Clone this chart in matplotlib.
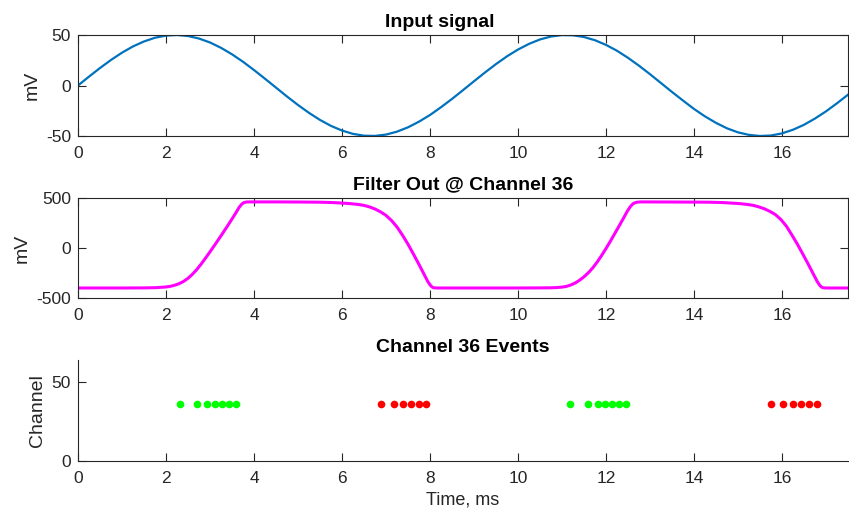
import matplotlib
matplotlib.use("Agg")
import matplotlib.pyplot as plt

plt.rcParams['font.family'] = ['Liberation Sans', 'DejaVu Sans']
plt.rcParams['axes.unicode_minus'] = False

# input sine, sampled every 0.25 ms
t_in = [i * 0.25 for i in range(71)]
v_in = [0.0, 8.8, 17.3, 25.3, 32.5, 38.7, 43.6, 47.3, 49.4, 50.0,
        49.0, 46.5, 42.6, 37.3, 30.9, 23.5, 15.3, 6.7, -2.1, -10.9,
        -19.3, -27.1, -34.1, -40.0, -44.6, -47.9, -49.7, -49.9, -48.6, -45.7,
        -41.4, -35.8, -29.2, -21.5, -13.3, -4.6, 4.2, 12.9, 21.2, 28.9,
        35.6, 41.2, 45.6, 48.5, 49.9, 49.7, 48.0, 44.8, 40.2, 34.4,
        27.4, 19.6, 11.2, 2.4, -6.4, -14.9, -23.2, -30.6, -37.0, -42.4,
        -46.4, -48.9, -50.0, -49.5, -47.4, -43.8, -38.9, -32.7, -25.6, -17.6,
        -9.1]

# filter output for channel 36 (ms, mV)
t_filt = [0.0, 1.0, 1.5, 1.75, 2.0, 2.1, 2.2, 2.3, 2.4, 2.5, 2.6, 2.7, 2.8,
          2.9, 3.0, 3.1, 3.2, 3.3, 3.4, 3.5, 3.6, 3.66, 3.72, 3.77, 3.83, 3.9,
          4.5, 5.0, 5.5, 5.75, 5.9, 6.0, 6.125, 6.25, 6.375, 6.5, 6.625, 6.75,
          6.875, 7.0, 7.125, 7.25, 7.375, 7.5, 7.625, 7.75, 7.85, 7.95, 8.0,
          8.04, 8.08, 8.15, 9.0, 10.0, 10.5,
          10.75, 10.9, 11.0, 11.1, 11.2, 11.3, 11.4, 11.5, 11.6, 11.7, 11.8,
          11.9, 12.0, 12.1, 12.2, 12.3, 12.4, 12.48, 12.55, 12.61, 12.66, 12.72,
          12.8, 13.5, 14.0, 14.35, 14.6, 14.75, 14.85, 14.975, 15.1, 15.225,
          15.35, 15.475, 15.6, 15.725, 15.85, 15.975, 16.1, 16.225, 16.35,
          16.475, 16.6, 16.7, 16.8, 16.85, 16.89, 16.93, 17.0, 17.5]
v_filt = [-400, -400, -399, -397, -390, -383, -372, -356, -334, -303, -263, -215, -160,
          -100, -38, 25, 90, 155, 222, 290, 360, 405, 438, 454, 460, 461,
          461, 460, 458, 455, 452, 449, 446, 441, 435, 426, 411, 390,
          362, 326, 275, 210, 128, 38, -62, -165, -250, -335, -368,
          -388, -397, -400, -400, -400, -399,
          -398, -395, -391, -384, -370, -350, -322, -288, -247, -198, -140,
          -75, -5, 68, 145, 222, 300, 365, 412, 441, 453, 459,
          461, 460, 459, 458, 455, 452, 449, 446, 441, 435,
          426, 411, 392, 366, 334, 285, 218, 130, 38,
          -62, -165, -250, -335, -368, -388, -397, -400, -400]

# spike events (ms) on channel 36
channel = 36
t_up = [2.32, 2.71, 2.93, 3.11, 3.28, 3.43, 3.59,
        11.18, 11.58, 11.81, 11.98, 12.14, 12.30, 12.46]
t_down = [6.89, 7.18, 7.38, 7.57, 7.74, 7.92,
          15.75, 16.03, 16.26, 16.44, 16.62, 16.79]

dark = '#262626'
fig = plt.figure(figsize=(8.49, 5.18), dpi=100)
W, H = 849, 518


def make_axes(top, bottom):
    ax = fig.add_axes([78 / W, 1 - bottom / H, 770 / W, (bottom - top) / H])
    ax.set_xlim(0, 17.5)
    ax.set_xticks(range(0, 17, 2))
    ax.tick_params(direction='in', length=5.5, width=0.8, colors=dark,
                   labelsize=12.5, top=True, right=True)
    ax.tick_params(axis='x', pad=7)
    ax.tick_params(axis='y', pad=5)
    for s in ax.spines.values():
        s.set_color(dark)
        s.set_linewidth(0.8)
    return ax


ax1 = make_axes(35, 136)
ax1.plot(t_in, v_in, color='#0072bd', lw=1.6)
ax1.set_ylim(-50, 50)
ax1.set_yticks([-50, 0, 50])
ax1.set_ylabel('mV', fontsize=14, color=dark)
ax1.set_title('Input signal', fontsize=14, fontweight='bold', pad=6, x=0.47)

ax2 = make_axes(198, 298)
ax2.plot(t_filt, v_filt, color='#ff00ff', lw=2.2)
ax2.set_ylim(-500, 500)
ax2.set_yticks([-500, 0, 500])
ax2.set_ylabel('mV', fontsize=14, color=dark)
ax2.set_title('Filter Out @ Channel 36', fontsize=14, fontweight='bold', pad=6)

ax3 = make_axes(360, 461)
ax3.tick_params(top=False, right=False)
ax3.spines['top'].set_visible(False)
ax3.spines['right'].set_visible(False)
ax3.plot(t_up, [channel] * len(t_up), 'o', color='#00ff00', ms=5.5, mec='none')
ax3.plot(t_down, [channel] * len(t_down), 'o', color='#ff0000', ms=5.5, mec='none')
ax3.set_ylim(0, 64)
ax3.set_yticks([0, 50])
ax3.set_ylabel('Channel', fontsize=14, color=dark)
ax3.set_xlabel('Time, ms', fontsize=13, color=dark, labelpad=4)
ax3.set_title('Channel 36 Events', fontsize=14, fontweight='bold', pad=6)

fig.savefig('out.png', dpi=100)
